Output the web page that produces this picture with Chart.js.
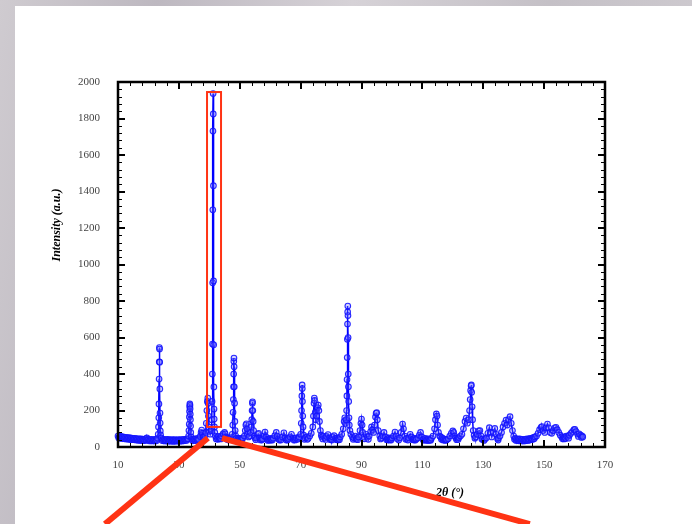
<!DOCTYPE html>
<html>
<head>
<meta charset="utf-8">
<script src="https://cdn.jsdelivr.net/npm/chart.js@4.4.1/dist/chart.umd.min.js"></script>
<style>
  html, body { margin: 0; padding: 0; }
  body {
    width: 692px; height: 524px; overflow: hidden; position: relative;
    background: linear-gradient(100deg, #cfcbd0 0%, #bdb8c0 20%, #d6d2d7 45%, #c4c0c6 70%, #d2ced3 100%);
  }
  #panel { position: absolute; left: 15px; top: 6px; right: 0; bottom: 0; background: #fff; }
  #chart { position: absolute; left: 0; top: 0; }
</style>
</head>
<body>
<div id="panel"></div>
<canvas id="chart" width="692" height="524"></canvas>
<script>
// XRD scan, [2theta, intensity]
const scan10to30 = [
  [10,60],[10.25,50],[10.5,57],[10.75,48],[11,58],[11.25,47],[11.5,55],[11.75,46],[12,54],[12.25,45],
  [12.5,53],[12.75,44],[13,52],[13.25,43],[13.5,51],[13.75,42],[14,50],[14.25,41],[14.5,49],[14.75,40],
  [15,48],[15.25,40],[15.5,47],[15.75,39],[16,46],[16.25,38],[16.5,45],[16.75,37],[17,45],[17.25,36],
  [17.5,44],[17.75,36],[18,43],[18.25,35],[18.5,42],[18.75,35],[19,44],[19.25,37],[19.5,50],[19.75,38],
  [20,42],[20.25,34],[20.5,41],[20.75,34],[21,42],[21.25,33],[21.5,41],[21.75,34],[22,40],[22.25,33],
  [22.5,42],[22.75,36],[23,48],
  [23.2,70],[23.3,110],[23.4,160],[23.45,236],[23.5,372],[23.55,467],[23.6,545],[23.65,537],
  [23.7,465],[23.75,318],[23.8,186],[23.85,131],[23.9,88],[24,66],[24.2,50],
  [24.5,35],[24.75,42],[25,34],[25.25,41],[25.5,33],[25.75,40],[26,33],[26.25,42],[26.5,32],[26.75,40],
  [27,33],[27.25,39],[27.5,32],[27.75,40],[28,32],[28.25,39],[28.5,31],[28.75,40],[29,33],[29.25,38],
  [29.5,32],[29.75,40]
];
const scan30to50 = [
  [30,33],[30.25,39],[30.5,32],[30.75,40],[31,33],[31.25,41],[31.5,34],[31.75,42],[32,35],[32.25,42],
  [32.5,36],[32.75,44],[33,45],
  [33.2,60],[33.3,90],[33.4,125],[33.45,165],[33.5,195],[33.55,220],[33.6,236],[33.65,228],
  [33.7,210],[33.75,180],[33.8,150],[33.85,115],[33.9,80],[34,55],[34.3,42],
  [34.5,34],[34.75,42],[35,36],[35.25,44],[35.5,35],[35.75,45],[36,38],[36.25,47],[36.5,40],[37,58],
  [37.3,80],[37.5,93],[37.7,75],[38,55],[38.25,44],[38.5,60],
  [38.8,80],[39,130],[39.2,200],[39.35,250],[39.5,268],[39.6,240],[39.7,170],[39.8,110],[40,85],[40.3,70],[40.6,90],
  [40.8,150],[40.9,250],[41,400],[41.05,564],[41.1,900],[41.15,1300],[41.2,1731],[41.25,1937],
  [41.3,1825],[41.35,1432],[41.4,910],[41.45,560],[41.5,329],[41.55,208],[41.6,153],[41.7,110],[41.8,80],[42,60],
  [42.25,44],[42.5,52],[42.75,42],[43,58],[43.25,45],[43.5,52],[43.75,44],[44,60],[44.5,72],[45,80],[45.2,72],
  [45.5,55],[45.75,42],[46,50],[46.25,40],[46.5,47],[46.75,42],[47,52],[47.5,70],
  [47.7,120],[47.8,190],[47.9,260],[47.95,330],[48,400],[48.05,470],[48.1,487],[48.15,440],
  [48.2,330],[48.3,240],[48.4,140],[48.5,90],[48.7,60],[49,48],[49.25,40],[49.5,47],[49.75,39]
];
const scan50to70 = [
  [50,48],[50.25,40],[50.5,46],[50.75,41],[51,50],[51.5,60],[51.8,90],[52,120],[52.2,127],[52.4,100],[52.6,70],
  [52.9,55],[53.2,60],[53.5,80],
  [53.8,110],[53.95,150],[54.05,200],[54.15,240],[54.2,248],[54.3,200],[54.4,140],[54.55,90],[54.8,60],
  [55,50],[55.25,40],[55.5,48],[56,70],[56.2,75],[56.5,50],[56.75,39],[57,46],[57.25,38],[57.5,44],[58,60],
  [58.3,82],[58.6,55],[59,42],[59.25,36],[59.5,44],[59.75,37],[60,47],[60.25,38],[60.5,44],[60.75,38],
  [61,48],[61.5,62],[62,80],[62.3,60],[62.7,45],[63,38],[63.25,46],[63.5,38],[64,55],[64.5,78],[65,50],
  [65.25,38],[65.5,44],[65.75,38],[66,47],[66.5,55],[67,70],[67.5,48],[67.75,38],[68,46],[68.25,39],
  [68.5,50],[69,42],[69.25,48],[69.5,55]
];
const scan70to90 = [
  [70,70],[70.2,130],[70.3,200],[70.4,280],[70.5,340],[70.55,320],[70.6,250],[70.7,170],[70.8,110],[71,65],
  [71.25,42],[71.5,50],[72,55],[72.25,42],[72.5,48],[73,60],[73.5,75],[74,110],[74.2,170],[74.4,240],[74.5,268],
  [74.6,255],[74.8,190],[75,150],[75.3,170],[75.6,215],[75.8,230],[76,200],[76.2,140],[76.5,90],[76.8,65],
  [77,55],[77.25,44],[77.5,60],[78,50],[78.25,41],[78.5,58],[79,68],[79.5,50],[79.75,40],[80,45],[80.25,38],
  [80.5,55],[81,62],[81.5,48],[81.75,40],[82,50],[82.25,39],[82.5,45],[82.75,40],
  [83,55],[83.5,70],[84,100],[84.3,140],[84.5,160],[84.7,130],[84.9,150],
  [85.1,200],[85.2,280],[85.25,370],[85.3,490],[85.35,590],[85.4,674],[85.45,740],[85.5,772],[85.55,720],
  [85.6,600],[85.65,400],[85.7,330],[85.8,250],[85.9,160],[86,120],[86.2,90],[86.5,70],
  [87,55],[87.25,42],[87.5,50],[88,60],[88.25,43],[88.5,48],[88.75,40],[89,55],[89.5,90],[89.8,130]
];
const scan90to130 = [
  [90,153],[90.2,120],[90.4,80],[90.8,55],[91,45],[91.5,70],[92,55],[92.25,42],[92.5,60],[93,85],[93.3,110],[93.6,95],
  [94,80],[94.3,120],[94.6,165],[94.8,185],[95,188],[95.2,150],[95.5,90],[96,60],[96.25,44],[96.5,50],[97,60],[97.4,80],
  [97.8,55],[98.25,40],[98.5,45],[98.75,38],[99,50],[99.25,39],[99.5,44],[99.75,38],[100,50],[100.5,60],[101,82],
  [101.3,60],[101.8,45],[102.25,38],[102.5,50],[103,80],
  [103.5,126],[103.8,100],[104.2,60],[104.5,42],[104.8,47],[105.25,38],[105.5,50],[106,70],[106.4,55],[106.75,40],
  [107,45],[107.25,38],[107.5,48],[107.75,38],[108,44],[108.5,50],[109,65],[109.4,80],[109.8,55],[110.25,39],
  [110.5,45],[110.75,37],[111,48],[111.25,37],[111.5,42],[111.75,36],[112,45],[112.25,36],[112.5,40],[112.75,37],[113,48],
  [113.5,60],[114,100],[114.3,150],[114.6,181],[114.8,170],[115,120],[115.3,80],[115.7,60],
  [116,55],[116.25,42],[116.5,50],[116.75,39],[117,45],[117.25,37],[117.5,42],[117.75,36],[118,40],[118.5,45],
  [119,60],[119.5,75],[120,88],[120.3,80],
  [120.6,60],[121,50],[121.25,40],[121.5,48],[121.75,41],[122,52],[122.5,60],[123,70],[123.5,100],[124,140],
  [124.4,159],[124.8,130],
  [125.2,150],[125.5,200],[125.7,260],[125.85,310],[126,335],[126.1,340],[126.2,300],[126.35,220],[126.5,150],
  [126.7,90],[127,65],[127.25,48],[127.5,55],[128,70],[128.5,88],[128.9,90],[129.3,60],[129.55,42],[129.8,45]
];
const scan130to163 = [
  [130.25,36],[130.5,42],[131,50],[131.5,75],[132,106],[132.4,80],[132.8,55],[133.3,80],[133.8,102],[134.2,70],
  [134.7,45],[134.9,38],
  [135,50],[135.5,60],[136,80],[136.5,110],[137,130],[137.5,148],[137.9,120],[138.3,150],[138.8,166],[139.2,130],
  [139.6,90],[140,60],[140.25,42],[140.5,48],[140.75,36],[141,45],[141.25,35],[141.5,43],[141.75,34],[142,44],
  [142.25,34],[142.5,41],[142.75,33],[143,42],[143.25,33],[143.5,40],[143.75,34],[144,43],[144.25,35],[144.5,45],
  [144.75,36],[145,44],[145.25,38],[145.5,48],[145.75,40],[146,47],[146.25,42],[146.5,53],[146.75,45],
  [147,55],[147.5,60],[148,75],[148.5,95],[149,108],[149.3,112],
  [149.7,90],[150.2,80],[150.6,105],[151.1,126],[151.5,105],[152,80],[152.5,75],[153,90],[153.5,105],[153.9,108],
  [154.3,95],[154.8,80],[155.3,65],[155.8,55],[156.05,45],[156.3,52],[156.55,44],[156.8,55],[157.05,46],
  [157.3,60],[157.8,58],[158.05,48],[158.3,65],[158.8,75],
  [159.3,85],[159.8,95],[160.1,97],[160.5,85],[161,70],[161.25,58],[161.5,72],[162,65],[162.25,52],[162.5,60],[162.7,55]
];

const xTickValues = [10, 30, 50, 70, 90, 110, 130, 150, 170];
const yTickValues = [0, 200, 400, 600, 800, 1000, 1200, 1400, 1600, 1800, 2000];

// red zoom box around the main reflection, in data units
const boxFrom = [39.25, 110];
const boxTo = [43.85, 1945];
// the two pointer lines leaving the box (they run off the plot)
const pointerLeft = [[39.55, 49], [5.7, -422]];
const pointerRight = [[44.15, 49], [145.3, -422]];

const scanPoints = [...scan10to30, ...scan30to50, ...scan50to70, ...scan70to90, ...scan90to130, ...scan130to163]
  .map(p => ({ x: p[0], y: p[1] }));

const serif = "'Liberation Serif', 'Times New Roman', serif";

const frameAndTicks = {
  id: 'frameAndTicks',
  afterDatasetsDraw(chart) {
    const { ctx, chartArea: a, scales } = chart;
    const sx = scales.x, sy = scales.y;
    ctx.save();
    ctx.strokeStyle = '#000';
    // minor ticks
    ctx.lineWidth = 1;
    ctx.beginPath();
    for (let v = 10; v <= 170; v += 4) {
      const px = Math.round(sx.getPixelForValue(v)) + 0.5;
      ctx.moveTo(px, a.bottom); ctx.lineTo(px, a.bottom - 4);
      ctx.moveTo(px, a.top); ctx.lineTo(px, a.top + 4);
    }
    for (let v = 0; v <= 2000; v += 40) {
      const py = Math.round(sy.getPixelForValue(v)) + 0.5;
      ctx.moveTo(a.left, py); ctx.lineTo(a.left + 4, py);
      ctx.moveTo(a.right, py); ctx.lineTo(a.right - 4, py);
    }
    ctx.stroke();
    // major ticks
    ctx.lineWidth = 2;
    ctx.beginPath();
    xTickValues.forEach(v => {
      const px = Math.round(sx.getPixelForValue(v));
      ctx.moveTo(px, a.bottom); ctx.lineTo(px, a.bottom - 7);
      ctx.moveTo(px, a.top); ctx.lineTo(px, a.top + 7);
    });
    yTickValues.forEach(v => {
      const py = Math.round(sy.getPixelForValue(v));
      ctx.moveTo(a.left, py); ctx.lineTo(a.left + 7, py);
      ctx.moveTo(a.right, py); ctx.lineTo(a.right - 7, py);
    });
    ctx.stroke();
    ctx.lineWidth = 2.5;
    ctx.strokeRect(a.left, a.top, a.right - a.left, a.bottom - a.top);

    // axis titles
    ctx.fillStyle = '#000';
    ctx.font = 'italic bold 12px ' + serif;
    ctx.textAlign = 'center';
    ctx.textBaseline = 'middle';
    ctx.fillText('2θ (°)', a.left + 332, a.bottom + 46);
    ctx.translate(a.left - 61, a.top + 143);
    ctx.rotate(-Math.PI / 2);
    ctx.fillText('Intensity (a.u.)', 0, 0);
    ctx.restore();
  },
  afterDraw(chart) {
    const { ctx, scales } = chart;
    const sx = scales.x, sy = scales.y;
    const px = p => [sx.getPixelForValue(p[0]), sy.getPixelForValue(p[1])];
    ctx.save();
    ctx.strokeStyle = '#ff3314';
    ctx.lineWidth = 2;
    const b0 = px(boxFrom), b1 = px(boxTo);
    ctx.strokeRect(b0[0], b1[1], b1[0] - b0[0], b0[1] - b1[1]);
    ctx.lineWidth = 6;
    ctx.lineCap = 'butt';
    [pointerLeft, pointerRight].forEach(seg => {
      const s = px(seg[0]), e = px(seg[1]);
      ctx.beginPath();
      ctx.moveTo(s[0], s[1]);
      ctx.lineTo(e[0], e[1]);
      ctx.stroke();
    });
    ctx.restore();
  }
};

new Chart(document.getElementById('chart').getContext('2d'), {
  type: 'line',
  data: {
    datasets: [{
      data: scanPoints,
      borderColor: '#0000ff',
      borderWidth: 1.5,
      pointRadius: 2.8,
      pointBorderWidth: 1.1,
      pointBorderColor: 'rgba(20,20,255,0.9)',
      pointBackgroundColor: 'rgba(110,110,255,0.3)',
      tension: 0,
      clip: false
    }]
  },
  options: {
    responsive: false,
    animation: false,
    layout: { padding: { left: 0, right: 87, top: 82, bottom: 0 } },
    plugins: { legend: { display: false }, tooltip: { enabled: false } },
    scales: {
      x: {
        type: 'linear',
        min: 10, max: 170,
        afterBuildTicks: s => { s.ticks = xTickValues.map(v => ({ value: v })); },
        afterFit: s => { s.height = 77; },
        grid: { display: false, drawTicks: false },
        border: { display: false },
        ticks: { padding: 12, color: '#444', font: { family: serif, size: 11 }, maxRotation: 0, autoSkip: false,
          callback: v => String(v) }
      },
      y: {
        min: 0, max: 2000,
        afterBuildTicks: s => { s.ticks = yTickValues.map(v => ({ value: v })); },
        afterFit: s => { s.width = 118; },
        grid: { display: false, drawTicks: false },
        border: { display: false },
        ticks: { padding: 18, color: '#444', font: { family: serif, size: 11 }, autoSkip: false,
          callback: v => String(v) }
      }
    }
  },
  plugins: [frameAndTicks]
});
</script>
</body>
</html>
